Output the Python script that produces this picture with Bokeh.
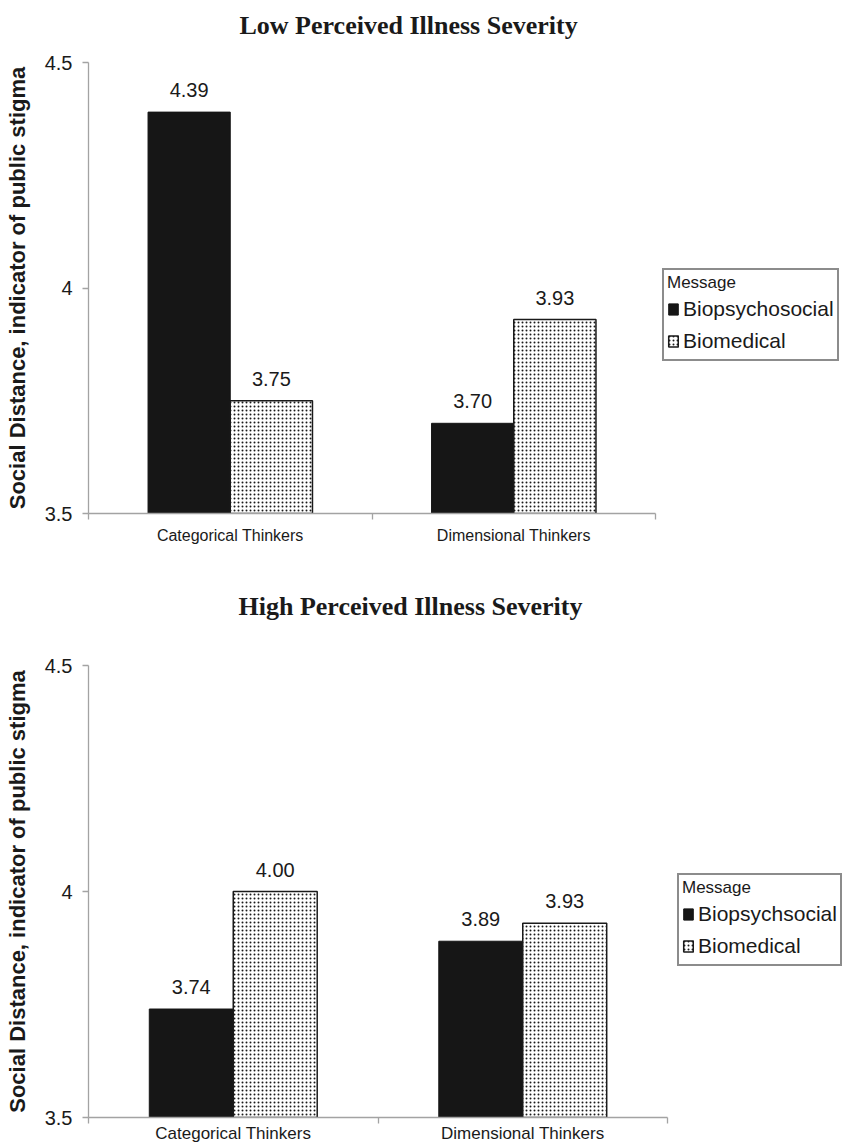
from bokeh.plotting import figure
from bokeh.models import ColumnDataSource, FixedTicker, Legend, LegendItem, LabelSet, Range1d
from bokeh.layouts import column
from bokeh.core.properties import value
from bokeh.embed import file_html
from bokeh.resources import INLINE

# ---- data ----
categories = ["Categorical Thinkers", "Dimensional Thinkers"]
low_title = "Low Perceived Illness Severity"
high_title = "High Perceived Illness Severity"
low_series = ["Biopsychosocial", "Biomedical"]
high_series = ["Biopsychsocial", "Biomedical"]
low_biopsychosocial = [4.39, 3.70]
low_biomedical = [3.75, 3.93]
high_biopsychosocial = [3.74, 3.89]
high_biomedical = [4.00, 3.93]
y_ticks = [3.5, 4.0, 4.5]
y_tick_labels = ["3.5", "4", "4.5"]
y_label = "Social Distance, indicator of public stigma"
legend_title = "Message"

BAR_W = 0.29
AXIS_GRAY = "#a3a3a3"
TXT = "#1a1a1a"
SANS = "Liberation Sans"


def make_panel(title, series, vals_a, vals_b, height, border_top, border_bottom,
               xmax, title_offset, title_standoff, legend_loc, cat_font, cat_standoff):
    p = figure(width=848, height=height, x_range=Range1d(0, xmax), y_range=Range1d(3.5, 4.5),
               output_backend="svg", toolbar_location=None,
               min_border_left=88, min_border_right=0,
               min_border_top=border_top, min_border_bottom=border_bottom)
    p.outline_line_color = None
    p.xgrid.grid_line_color = None
    p.ygrid.grid_line_color = None
    p.background_fill_color = "white"

    # trailing empty line lifts the title away from the plot frame
    p.title.text = title + "\n"
    p.title.text_font = "Liberation Serif"
    p.title.text_font_style = "bold"
    p.title.text_font_size = "26px"
    p.title.text_line_height = 0.77
    p.title.text_color = TXT
    p.title.align = "left"
    p.title.offset = title_offset
    p.title.standoff = title_standoff

    centers = [i + 0.5 for i in range(len(categories))]
    xa = [c - BAR_W / 2 for c in centers]
    xb = [c + BAR_W / 2 for c in centers]
    src_a = ColumnDataSource(dict(x=xa, top=vals_a, txt=[f"{v:.2f}" for v in vals_a]))
    src_b = ColumnDataSource(dict(x=xb, top=vals_b, txt=[f"{v:.2f}" for v in vals_b]))

    ra = p.vbar(x="x", top="top", bottom=3.5, width=BAR_W, source=src_a,
                fill_color="#161616", line_color="#161616", line_width=1)
    rb = p.vbar(x="x", top="top", bottom=3.5, width=BAR_W, source=src_b,
                fill_color="white", line_color="#1a1a1a", line_width=1.5,
                hatch_pattern="dot", hatch_color="#1a1a1a", hatch_scale=4, hatch_weight=1.1)

    for src in (src_a, src_b):
        p.add_layout(LabelSet(x="x", y="top", text="txt", source=src, text_align="center",
                              text_baseline="alphabetic", y_offset=15,
                              text_font=value(SANS), text_font_size="20px", text_color=TXT))

    # x axis
    xax = p.xaxis[0]
    xax.ticker = FixedTicker(ticks=centers, minor_ticks=[0, 1, 2])
    xax.major_label_overrides = {c: name for c, name in zip(centers, categories)}
    xax.bounds = (0, 2)
    xax.axis_line_color = AXIS_GRAY
    xax.axis_line_width = 1.3
    xax.major_tick_line_color = None
    xax.major_tick_out = 0
    xax.major_tick_in = 0
    xax.minor_tick_line_color = AXIS_GRAY
    xax.minor_tick_line_width = 1.3
    xax.minor_tick_out = 6
    xax.minor_tick_in = 0
    xax.major_label_text_font = SANS
    xax.major_label_text_font_size = cat_font
    xax.major_label_text_color = TXT
    xax.major_label_standoff = cat_standoff

    # y axis
    yax = p.yaxis[0]
    yax.ticker = FixedTicker(ticks=y_ticks, minor_ticks=[])
    yax.major_label_overrides = {t: s for t, s in zip(y_ticks, y_tick_labels)}
    yax.bounds = (3.5, 4.5)
    yax.axis_line_color = AXIS_GRAY
    yax.axis_line_width = 1.3
    yax.major_tick_line_color = AXIS_GRAY
    yax.major_tick_line_width = 1.3
    yax.major_tick_out = 6
    yax.major_tick_in = 0
    yax.major_label_text_font = SANS
    yax.major_label_text_font_size = "20px"
    yax.major_label_text_color = TXT
    yax.major_label_standoff = 10
    yax.axis_label = y_label
    yax.axis_label_text_font = SANS
    yax.axis_label_text_font_style = "bold"
    yax.axis_label_text_font_size = "22px"
    yax.axis_label_text_color = TXT
    yax.axis_label_standoff = 12

    legend = Legend(items=[LegendItem(label=series[0], renderers=[ra]),
                           LegendItem(label=series[1], renderers=[rb])],
                    location=legend_loc, title=legend_title,
                    title_text_font=SANS, title_text_font_size="17px", title_text_color=TXT,
                    title_text_font_style="normal", title_standoff=0,
                    label_text_font=SANS, label_text_font_size="21px", label_text_color=TXT,
                    glyph_width=12, glyph_height=14, label_height=31, label_standoff=4,
                    spacing=1, padding=3, margin=0,
                    border_line_color="#1a1a1a", border_line_width=2,
                    background_fill_color="white", background_fill_alpha=1)
    p.add_layout(legend)
    return p


p1 = make_panel(low_title, low_series, low_biopsychosocial, low_biomedical,
                height=568, border_top=62, border_bottom=55, xmax=760 / 283.5,
                title_offset=151, title_standoff=0, legend_loc=(574, 152),
                cat_font="16px", cat_standoff=7)
p2 = make_panel(high_title, high_series, high_biopsychosocial, high_biomedical,
                height=578, border_top=96, border_bottom=29, xmax=760 / 289.5,
                title_offset=150, title_standoff=44, legend_loc=(589, 151),
                cat_font="17px", cat_standoff=0)

layout = column(p1, p2, spacing=0)
open("out.html", "w").write(file_html(layout, INLINE))
